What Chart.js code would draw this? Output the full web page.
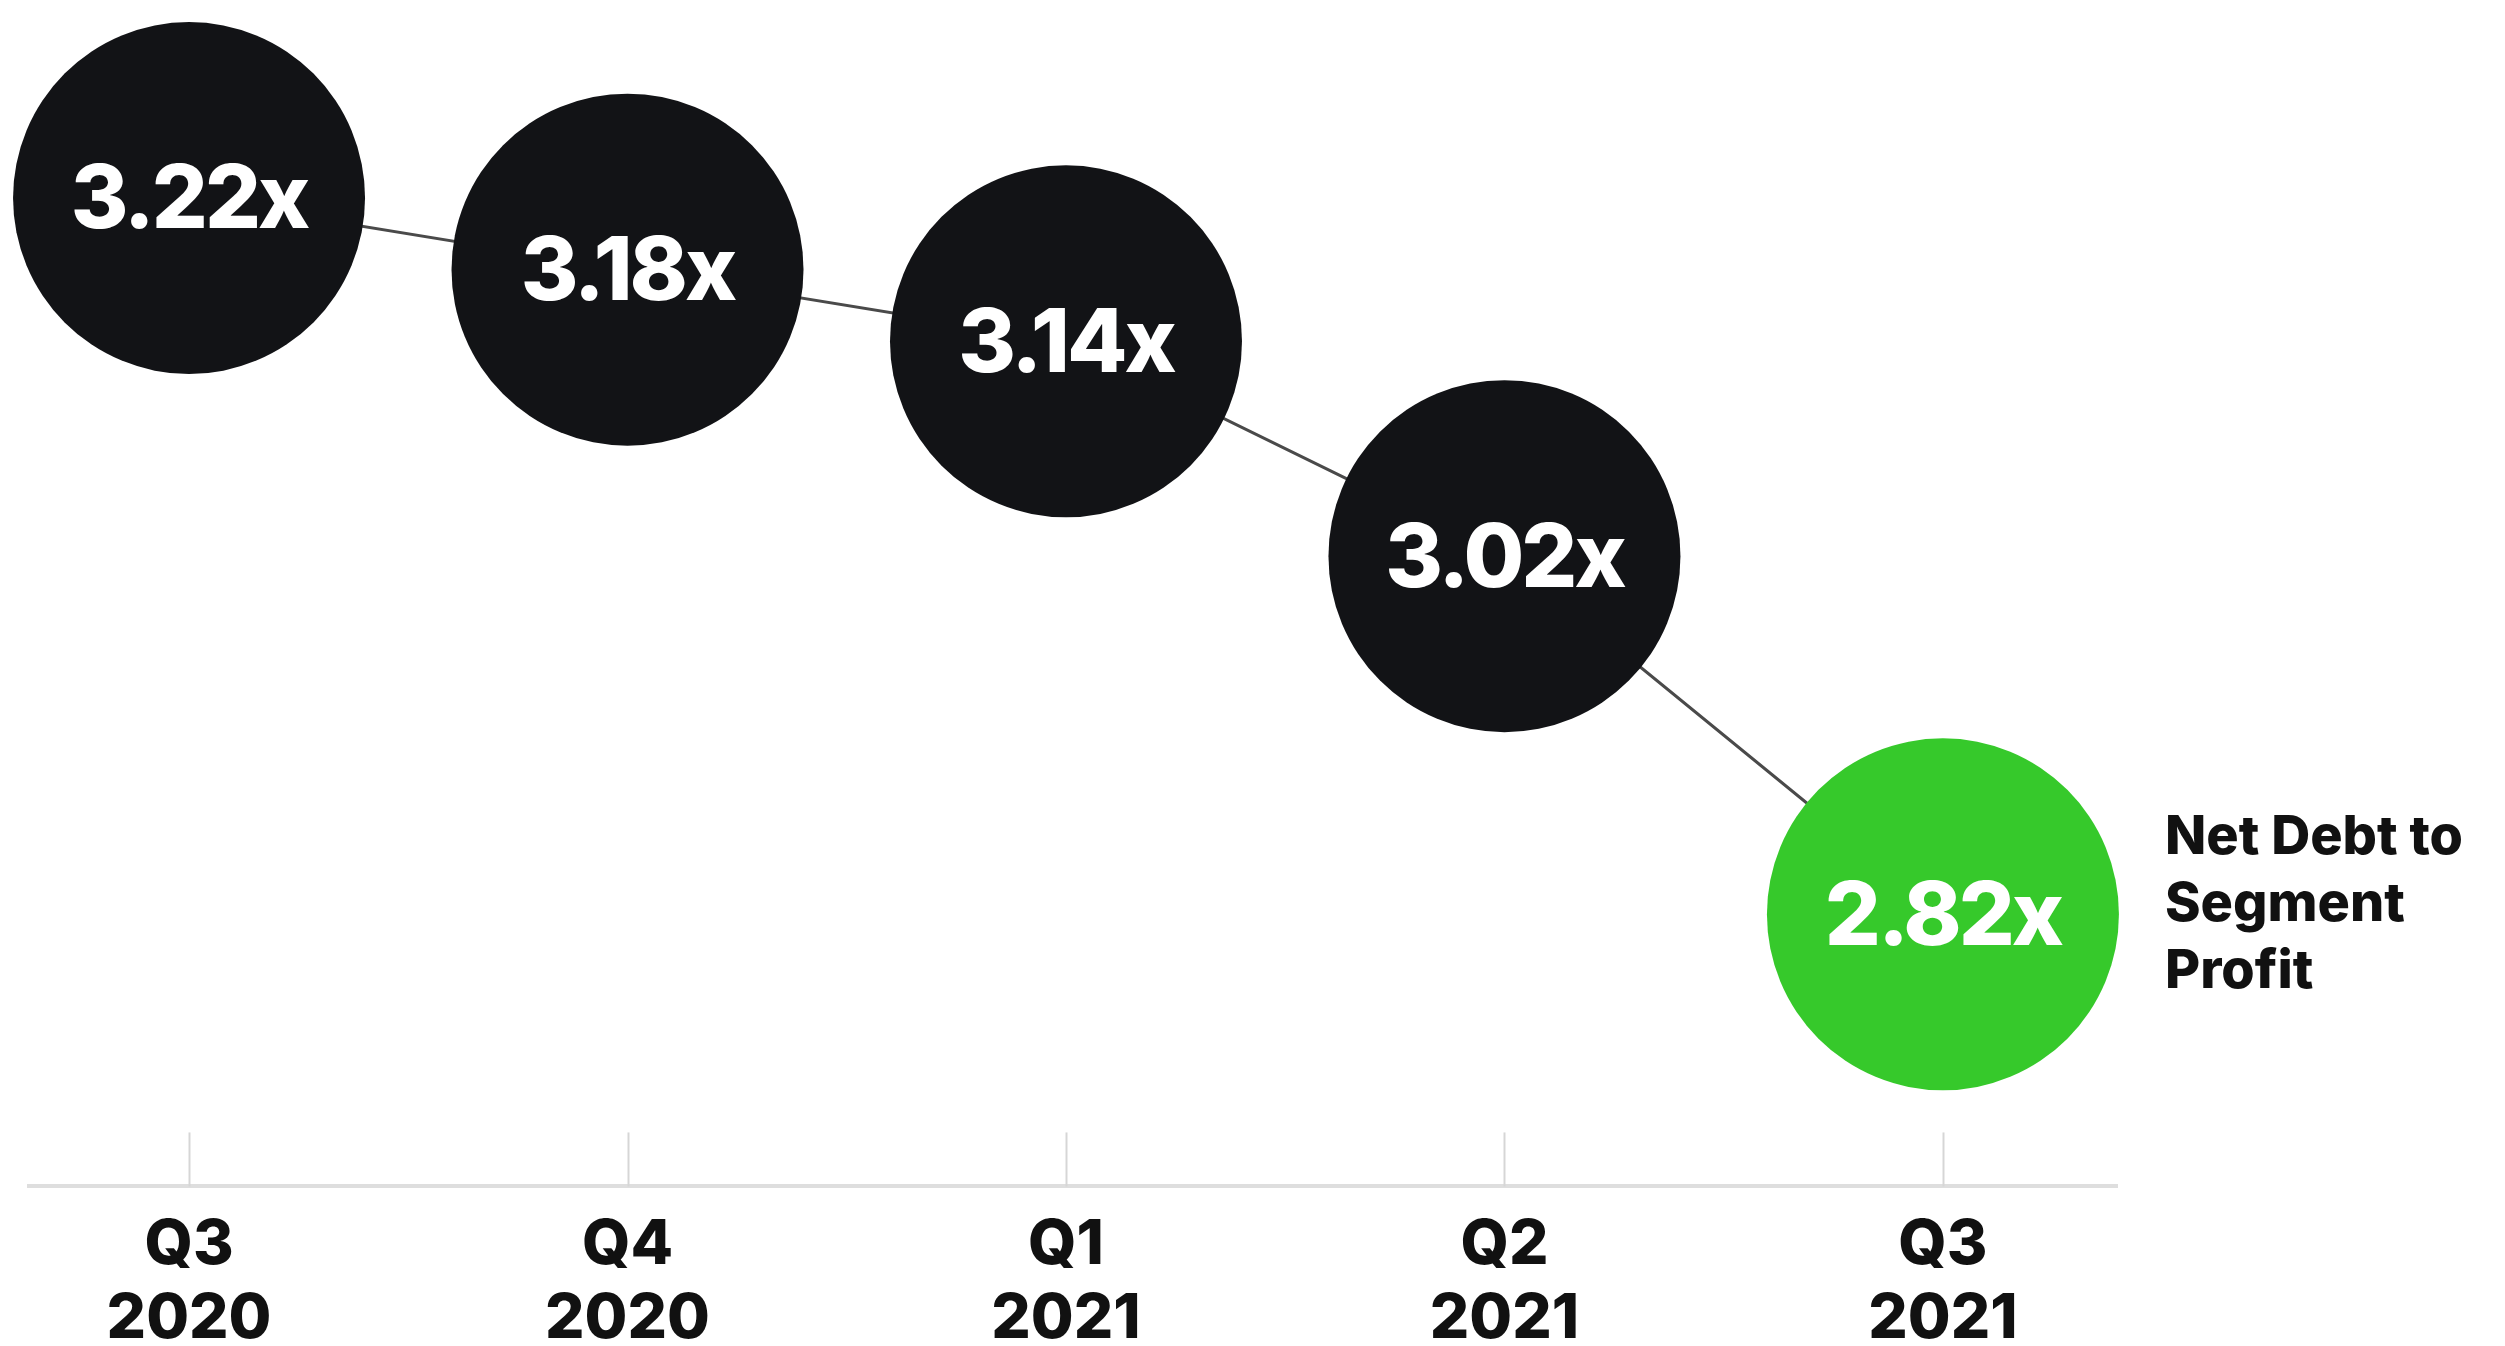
<!DOCTYPE html>
<html>
<head>
<meta charset="utf-8">
<title>Net Debt to Segment Profit</title>
<script src="https://cdn.jsdelivr.net/npm/chart.js@4.4.1/dist/chart.umd.min.js"></script>
<style>
	html, body { margin: 0; padding: 0; background: #ffffff; overflow: hidden; }
	#wrap { width: 2505px; height: 1378px; position: relative; }
</style>
</head>
<body>
<div id="wrap"><canvas id="leverageChart"></canvas></div>
<script>
( function () {
	'use strict';

	// quarter labels (two lines each) and leverage ratio per quarter
	const quarters = [ 'Q3', 'Q4', 'Q1', 'Q2', 'Q3' ];
	const years    = [ '2020', '2020', '2021', '2021', '2021' ];
	const ratios   = [ 3.22, 3.18, 3.14, 3.02, 2.82 ];
	const seriesLabel = [ 'Net Debt to', 'Segment', 'Profit' ];

	const colors = {
		dot:     '#121316',
		current: '#36c92b',
		line:    '#4a4a4a',
		axis:    '#dedede',
		tick:    '#d6d6d6',
		text:    '#111111',
	};

	const fontFamily = "'Inter', 'Lato', 'DejaVu Sans', sans-serif";

	const points = ratios.map( function ( v, i ) { return { x: i, y: v }; } );
	const dotColors = ratios.map( function ( v, i ) {
		return i === ratios.length - 1 ? colors.current : colors.dot;
	} );

	// short tick marks standing on the axis line
	const axisTicks = {
		id: 'axisTicks',
		afterDraw: function ( chart ) {
			const ctx = chart.ctx;
			const x = chart.scales.x;
			const bottom = chart.chartArea.bottom;
			ctx.save();
			ctx.strokeStyle = colors.tick;
			ctx.lineWidth = 2;
			x.ticks.forEach( function ( t ) {
				const px = Math.round( x.getPixelForValue( t.value ) ) + 0.5;
				ctx.beginPath();
				ctx.moveTo( px, bottom - 54 );
				ctx.lineTo( px, bottom );
				ctx.stroke();
			} );
			ctx.restore();
		},
	};

	// ratio text inside each dot, series name beside the latest one
	const dotLabels = {
		id: 'dotLabels',
		afterDatasetsDraw: function ( chart ) {
			const ctx = chart.ctx;
			const meta = chart.getDatasetMeta( 0 );
			ctx.save();
			ctx.textAlign = 'center';
			ctx.textBaseline = 'middle';
			ctx.fillStyle = '#ffffff';
			ctx.font = '800 88px ' + fontFamily;
			ctx.letterSpacing = '-3px';
			meta.data.forEach( function ( el, i ) {
				ctx.fillText( ratios[ i ].toFixed( 2 ) + 'x', el.x, el.y + 4 );
			} );

			const last = meta.data[ meta.data.length - 1 ];
			ctx.textAlign = 'left';
			ctx.fillStyle = colors.text;
			ctx.font = '800 54px ' + fontFamily;
			ctx.letterSpacing = '0px';
			seriesLabel.forEach( function ( line, i ) {
				ctx.fillText( line, last.x + 222, last.y - 76 + i * 67 );
			} );
			ctx.restore();
		},
	};

	new Chart( document.getElementById( 'leverageChart' ), {
		type: 'line',
		data: {
			datasets: [ {
				label:                seriesLabel.join( ' ' ),
				data:                 points,
				borderColor:          colors.line,
				borderWidth:          3,
				pointRadius:          176,
				pointHoverRadius:     176,
				pointBackgroundColor: dotColors,
				pointBorderColor:     dotColors,
				pointBorderWidth:     0,
				tension:              0,
				clip:                 false,
			} ],
		},
		options: {
			responsive:          true,
			maintainAspectRatio: false,
			animation:           false,
			events:              [],
			layout: {
				autoPadding: false,
				padding: { left: 29, right: 388, top: 10, bottom: 0 },
			},
			plugins: {
				legend:  { display: false },
				tooltip: { enabled: false },
			},
			scales: {
				x: {
					type: 'linear',
					min:  -0.365,
					max:  4.397,
					afterBuildTicks: function ( scale ) {
						scale.ticks = quarters.map( function ( q, i ) { return { value: i }; } );
					},
					grid:   { display: false, drawTicks: false },
					border: { display: true, color: colors.axis, width: 4 },
					ticks: {
						padding:     22,
						color:       colors.text,
						maxRotation: 0,
						autoSkip:    false,
						font: { family: fontFamily, size: 62, weight: '800', lineHeight: 1.19 },
						callback: function ( val ) {
							return [ quarters[ val ], years[ val ] ];
						},
					},
				},
				y: {
					display: false,
					min:     2.668,
					max:     3.325,
				},
			},
		},
		plugins: [ axisTicks, dotLabels ],
	} );
} )();
</script>
</body>
</html>
